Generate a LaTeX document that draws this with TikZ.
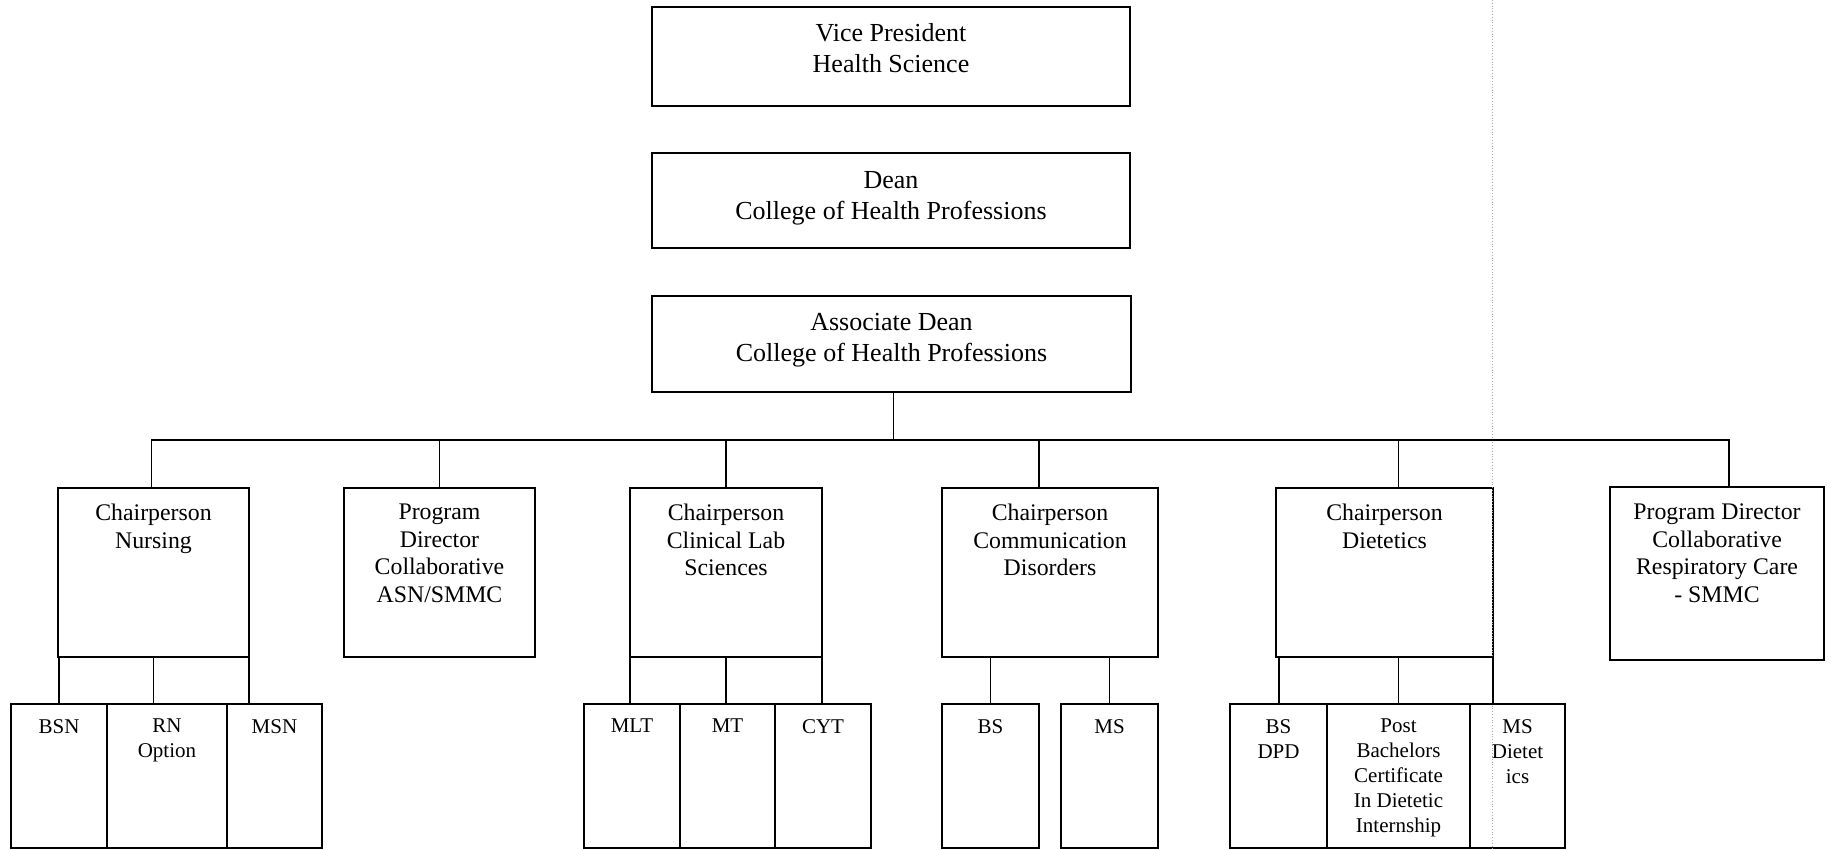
\documentclass[tikz,border=0pt]{standalone}
\usepackage{fontspec}
\setmainfont{Liberation Serif}
\usetikzlibrary{calc}
\begin{document}
\begin{tikzpicture}[x=1pt,y=-1pt,
  box/.style={draw, line width=1.3pt, anchor=north west, inner sep=0pt, outer sep=0pt},
  conn/.style={line width=1.3pt},
  tA/.style={font=\fontsize{26pt}{31.5pt}\selectfont, align=center, anchor=north, inner sep=0pt},
  tB/.style={font=\fontsize{23.8pt}{27.5pt}\selectfont, align=center, anchor=north, inner sep=0pt},
  tC/.style={font=\fontsize{21pt}{25pt}\selectfont, align=center, anchor=north, inner sep=0pt},
  guide/.style={draw=gray!70, dotted, line width=0.8pt}
]
\useasboundingbox (0,0) rectangle (1831,850);

% top level
\node[box, minimum width=478pt, minimum height=99pt, label={[tA, yshift=-16pt]90:{Vice President\\Health Science}}] (vp) at (652,7) {};
\node[box, minimum width=478pt, minimum height=95pt, label={[tA, yshift=-18pt]90:{Dean\\College of Health Professions}}] (dean) at (652,153) {};
\node[box, minimum width=479pt, minimum height=96pt, label={[tA, yshift=-17pt]90:{Associate Dean\\College of Health Professions}}] (assoc) at (652,296) {};

% second level
\node[box, minimum width=191pt, minimum height=169pt, label={[tB, yshift=-16pt]90:{Chairperson\\Nursing}}] (nurs) at (58,488) {};
\node[box, minimum width=191pt, minimum height=169pt, label={[tB, yshift=-16pt]90:{Program\\Director\\Collaborative\\ASN/SMMC}}] (pd) at (344,488) {};
\node[box, minimum width=192pt, minimum height=169pt, label={[tB, yshift=-16pt]90:{Chairperson\\Clinical Lab\\Sciences}}] (cls) at (630,488) {};
\node[box, minimum width=216pt, minimum height=169pt, label={[tB, yshift=-16pt]90:{Chairperson\\Communication\\Disorders}}] (cd) at (942,488) {};
\node[box, minimum width=217pt, minimum height=169pt, label={[tB, yshift=-16pt]90:{Chairperson\\Dietetics}}] (diet) at (1276,488) {};
\node[box, minimum width=214pt, minimum height=173pt, label={[tB, yshift=-17pt]90:{Program Director\\Collaborative\\Respiratory Care\\- SMMC}}] (rc) at (1610,487) {};

% third level
\node[box, minimum width=96pt, minimum height=144pt, label={[tC, yshift=-15pt]90:{BSN}}] (bsn) at (11,704) {};
\node[box, minimum width=120pt, minimum height=144pt, label={[tC, yshift=-15pt]90:{RN\\Option}}] (rn) at (107,704) {};
\node[box, minimum width=95pt, minimum height=144pt, label={[tC, yshift=-15pt]90:{MSN}}] (msn) at (227,704) {};

\node[box, minimum width=96pt, minimum height=144pt, label={[tC, yshift=-15pt]90:{MLT}}] (mlt) at (584,704) {};
\node[box, minimum width=95pt, minimum height=144pt, label={[tC, yshift=-15pt]90:{MT}}] (mt) at (680,704) {};
\node[box, minimum width=96pt, minimum height=144pt, label={[tC, yshift=-15pt]90:{CYT}}] (cyt) at (775,704) {};

\node[box, minimum width=97pt, minimum height=144pt, label={[tC, yshift=-15pt]90:{BS}}] (bs) at (942,704) {};
\node[box, minimum width=97pt, minimum height=144pt, label={[tC, yshift=-15pt]90:{MS}}] (ms) at (1061,704) {};

\node[box, minimum width=97pt, minimum height=144pt, label={[tC, yshift=-15pt]90:{BS\\DPD}}] (bsdpd) at (1230,704) {};
\node[box, minimum width=143pt, minimum height=144pt, label={[tC, yshift=-15pt]90:{Post\\Bachelors\\Certificate\\In Dietetic\\Internship}}] (post) at (1327,704) {};
\node[box, minimum width=95pt, minimum height=144pt, label={[tC, yshift=-15pt]90:{MS\\Dietet\\ics}}] (msd) at (1470,704) {};

% dotted guide line
\coordinate (gtop) at (1492,0);
\coordinate (gbot) at (1492,850);
\draw[guide] (gtop) -- (gbot);

% bus
\coordinate (bus) at (894,440);
\draw[conn] ([xshift=2pt]assoc.south) -- ([xshift=2pt]assoc.south |- bus);
\draw[conn] ([xshift=-2pt]nurs.north) |- (bus) -| ([xshift=12pt]rc.north);
\draw[conn] (pd.north) -- (pd.north |- bus);
\draw[conn] (cls.north) -- (cls.north |- bus);
\draw[conn] ([xshift=-11pt]cd.north) -- ([xshift=-11pt]cd.north |- bus);
\draw[conn] (post.north |- diet.north) -- (post.north |- bus);

% nursing children
\draw[conn] ([xshift=1pt]nurs.south west) -- ([xshift=1pt]nurs.south west |- bsn.north);
\draw[conn] (nurs.south) -- (nurs.south |- rn.north);
\draw[conn] (nurs.south east) -- (nurs.south east |- msn.north);
% cls children
\draw[conn] (cls.south west) -- (cls.south west |- mlt.north);
\draw[conn] (cls.south) -- (cls.south |- mt.north);
\draw[conn] (cls.south east) -- (cls.south east |- cyt.north);
% cd children
\draw[conn] (bs.north) -- (bs.north |- cd.south);
\draw[conn] (ms.north) -- (ms.north |- cd.south);
% dietetics children
\draw[conn] ([xshift=3pt]diet.south west) -- ([xshift=3pt]diet.south west |- bsdpd.north);
\draw[conn] (post.north) -- (post.north |- diet.south);
\draw[conn] (diet.south east) -- (diet.south east |- msd.north);
\end{tikzpicture}
\end{document}
